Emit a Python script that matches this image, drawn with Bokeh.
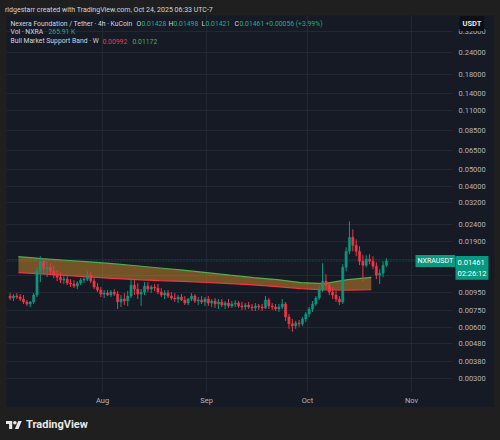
import pandas as pd
from bokeh.plotting import figure
from bokeh.models import (ColumnDataSource, Range1d, FixedTicker, PrintfTickFormatter,
                          DatetimeTickFormatter, Label, Span, Div, BoxAnnotation,
                          GlobalInlineStyleSheet)
from bokeh.layouts import column
from bokeh.embed import file_html
from bokeh.resources import INLINE

# ---------------- data (daily OHLC, NXRA/USDT) ----------------
first_day = "2025-07-04"
opens = [0.00912, 0.00888, 0.00912, 0.00900, 0.00876, 0.00842, 0.00819, 0.00842, 0.00924, 0.01274,
         0.01457, 0.01309, 0.01344, 0.01274, 0.01208, 0.01176, 0.01130, 0.01145, 0.01085, 0.01071,
         0.01042, 0.01085, 0.01130, 0.01145, 0.01208, 0.01115, 0.01029, 0.00988,
         0.00936, 0.00949, 0.00924, 0.00962, 0.00936, 0.00842, 0.00876, 0.00853, 0.00912, 0.01056,
         0.01001, 0.00936, 0.00962, 0.01042, 0.01001, 0.01029, 0.01015, 0.00962, 0.00924, 0.00949,
         0.00912, 0.00888, 0.00876, 0.00900, 0.00864, 0.00830, 0.00876, 0.00912, 0.00853, 0.00864,
         0.00842,
         0.00876, 0.00830, 0.00853, 0.00819, 0.00842, 0.00808, 0.00830, 0.00798, 0.00819, 0.00830,
         0.00798, 0.00787, 0.00808, 0.00787, 0.00777, 0.00798, 0.00787, 0.00777, 0.00864, 0.00798,
         0.00787, 0.00766, 0.00787, 0.00819, 0.00688, 0.00627, 0.00610, 0.00635, 0.00627, 0.00670,
         0.00716, 0.00766, 0.00819, 0.00888, 0.00988, 0.01115, 0.01056, 0.00962, 0.00924, 0.00876,
         0.00842, 0.01344, 0.01665, 0.02008, 0.01805, 0.01665, 0.01457, 0.01381, 0.01496, 0.01457,
         0.01362, 0.01208, 0.01241, 0.01381]
highs = [0.00949, 0.00936, 0.00949, 0.00936, 0.00924, 0.00864, 0.00853, 0.00949, 0.01344, 0.01558,
         0.01516, 0.01457, 0.01418, 0.01381, 0.01291, 0.01257, 0.01208, 0.01192, 0.01145, 0.01130,
         0.01115, 0.01160, 0.01176, 0.01274, 0.01257, 0.01160, 0.01085, 0.01029,
         0.00988, 0.00988, 0.00988, 0.01001, 0.00975, 0.00924, 0.00949, 0.00975, 0.01145, 0.01130,
         0.01085, 0.01001, 0.01100, 0.01100, 0.01056, 0.01071, 0.01071, 0.01015, 0.00988, 0.00988,
         0.00962, 0.00949, 0.00924, 0.00936, 0.00912, 0.00888, 0.00949, 0.00936, 0.00900, 0.00912,
         0.00900,
         0.00912, 0.00876, 0.00888, 0.00876, 0.00876, 0.00853, 0.00876, 0.00853, 0.00864, 0.00853,
         0.00842, 0.00830, 0.00842, 0.00819, 0.00830, 0.00819, 0.00819, 0.00912, 0.00888, 0.00830,
         0.00819, 0.00819, 0.00876, 0.00842, 0.00716, 0.00670, 0.00653, 0.00661, 0.00688, 0.00736,
         0.00787, 0.00853, 0.00912, 0.01042, 0.01418, 0.01224, 0.01100, 0.01029, 0.00975, 0.00912,
         0.01399, 0.01757, 0.02489, 0.02235, 0.01955, 0.01781, 0.01579, 0.01579, 0.01600, 0.01558,
         0.01437, 0.01309, 0.01457, 0.01516]
lows = [0.00864, 0.00853, 0.00876, 0.00853, 0.00819, 0.00798, 0.00787, 0.00819, 0.00900, 0.01100,
        0.01224, 0.01176, 0.01208, 0.01160, 0.01115, 0.01085, 0.01071, 0.01056, 0.01029, 0.01015,
        0.01001, 0.01056, 0.01085, 0.01115, 0.01085, 0.01001, 0.00962, 0.00900,
        0.00888, 0.00912, 0.00900, 0.00912, 0.00766, 0.00787, 0.00808, 0.00798, 0.00888, 0.00924,
        0.00876, 0.00798, 0.00924, 0.00962, 0.00949, 0.00975, 0.00936, 0.00900, 0.00876, 0.00888,
        0.00864, 0.00842, 0.00830, 0.00853, 0.00808, 0.00808, 0.00853, 0.00830, 0.00808, 0.00819,
        0.00798,
        0.00798, 0.00787, 0.00777, 0.00766, 0.00787, 0.00766, 0.00777, 0.00777, 0.00787, 0.00777,
        0.00756, 0.00756, 0.00766, 0.00746, 0.00746, 0.00756, 0.00746, 0.00766, 0.00766, 0.00756,
        0.00746, 0.00736, 0.00766, 0.00653, 0.00586, 0.00563, 0.00586, 0.00602, 0.00610, 0.00644,
        0.00688, 0.00736, 0.00798, 0.00864, 0.00962, 0.01001, 0.00924, 0.00876, 0.00842, 0.00808,
        0.00819, 0.01274, 0.01600, 0.01665, 0.01558, 0.01381, 0.01115, 0.01344, 0.01399, 0.01309,
        0.01145, 0.01071, 0.01176, 0.01344]
closes = [0.00888, 0.00912, 0.00900, 0.00876, 0.00842, 0.00819, 0.00842, 0.00924, 0.01274, 0.01457,
          0.01309, 0.01344, 0.01274, 0.01208, 0.01176, 0.01130, 0.01145, 0.01085, 0.01071, 0.01042,
          0.01085, 0.01130, 0.01145, 0.01208, 0.01115, 0.01029, 0.00988, 0.00936,
          0.00949, 0.00924, 0.00962, 0.00936, 0.00842, 0.00876, 0.00853, 0.00912, 0.01056, 0.01001,
          0.00936, 0.00962, 0.01042, 0.01001, 0.01029, 0.01015, 0.00962, 0.00924, 0.00949, 0.00912,
          0.00888, 0.00876, 0.00900, 0.00864, 0.00830, 0.00876, 0.00912, 0.00853, 0.00864, 0.00842,
          0.00876,
          0.00830, 0.00853, 0.00819, 0.00842, 0.00808, 0.00830, 0.00798, 0.00819, 0.00830, 0.00798,
          0.00787, 0.00808, 0.00787, 0.00777, 0.00798, 0.00787, 0.00777, 0.00864, 0.00798, 0.00787,
          0.00766, 0.00787, 0.00819, 0.00688, 0.00627, 0.00610, 0.00635, 0.00627, 0.00670, 0.00716,
          0.00766, 0.00819, 0.00888, 0.00988, 0.01115, 0.01056, 0.00962, 0.00924, 0.00876, 0.00842,
          0.01344, 0.01665, 0.02008, 0.01805, 0.01665, 0.01457, 0.01381, 0.01496, 0.01457, 0.01362,
          0.01208, 0.01241, 0.01381, 0.01461]

# Bull Market Support Band (weekly): 20W SMA (red) and 21W EMA (green)
band_weeks = ["2025-07-07", "2025-07-14", "2025-07-21", "2025-07-28", "2025-08-04", "2025-08-11",
              "2025-08-18", "2025-08-25", "2025-09-01", "2025-09-08", "2025-09-15", "2025-09-22",
              "2025-09-29", "2025-10-06", "2025-10-13", "2025-10-20"]
band_sma = [0.01250, 0.01227, 0.01203, 0.01179, 0.01155, 0.01138, 0.01122, 0.01111,
            0.01094, 0.01078, 0.01059, 0.01036, 0.01008, 0.00991, 0.00988, 0.00992]
band_ema = [0.01548, 0.01510, 0.01476, 0.01443, 0.01409, 0.01371, 0.01330, 0.01291,
            0.01249, 0.01208, 0.01169, 0.01138, 0.01093, 0.01078, 0.01138, 0.01172]

last_price = 0.01461
price_ticks = [0.0030, 0.0038, 0.0048, 0.0060, 0.0075, 0.0095, 0.0120, 0.0150, 0.0190, 0.0240,
               0.0320, 0.0400, 0.0500, 0.0650, 0.0850, 0.1100, 0.1400, 0.1800, 0.2400, 0.3200]
month_ticks = ["2025-08-01", "2025-09-01", "2025-10-01", "2025-11-01"]

# ---------------- styling ----------------
OUTER = "#1f1f1f"
PANEL = "#161a25"
UP = "#089981"
DOWN = "#f23645"
TXT = "#d1d4dc"
AX = "#b2b5be"
TEAL = "#22ab94"
FONT = "Roboto"


def ms(ts):
    return pd.Timestamp(ts).value / 1e6


dates = pd.date_range(first_day, periods=len(closes), freq="D") + pd.Timedelta(hours=12)
colors = [UP if c >= o else DOWN for o, c in zip(opens, closes)]
src = ColumnDataSource(dict(x=dates, o=opens, h=highs, l=lows, c=closes, color=colors))

# frame covers the whole TradingView pane (chart + price scale + time scale)
p = figure(width=488, height=392, x_axis_type="datetime", y_axis_type="log",
           y_axis_location="right",
           x_range=Range1d(ms("2025-07-03 10:17"), ms("2025-11-25 16:00")),
           y_range=Range1d(0.0020903, 0.3975),
           output_backend="svg", toolbar_location=None,
           min_border=0, background_fill_color=PANEL, border_fill_color=PANEL,
           outline_line_color=None, margin=(0, 6, 0, 6))

p.yaxis.ticker = FixedTicker(ticks=price_ticks, minor_ticks=[])
p.yaxis.formatter = PrintfTickFormatter(format="%.5f")
p.xaxis.ticker = FixedTicker(ticks=[ms(m) for m in month_ticks], minor_ticks=[])
p.xaxis.formatter = DatetimeTickFormatter(microseconds="%b", milliseconds="%b", seconds="%b",
                                          minsec="%b", minutes="%b", hourmin="%b", hours="%b",
                                          days="%b", months="%b", years="%b")
for ax in (p.xaxis, p.yaxis):
    ax.axis_line_color = None
    ax.major_tick_line_color = None
    ax.minor_tick_line_color = None
    ax.major_tick_in = 0
    ax.major_tick_out = 0
    ax.major_label_text_color = AX
    ax.major_label_text_font = FONT
    ax.major_label_text_font_size = "7.5px"
# labels drawn inside the pane, on the price / time scale strips
p.yaxis.major_label_standoff = -36
p.xaxis.major_label_standoff = -10

p.xgrid.grid_line_color = "#2a2e39"
p.ygrid.grid_line_color = "#2a2e39"
p.xgrid.grid_line_alpha = 0.7
p.ygrid.grid_line_alpha = 0.7

# last price line (under the candles)
p.add_layout(Span(location=last_price, dimension="width", line_color=UP,
                  line_dash="1 2", line_alpha=0.6, line_width=1, level="underlay"))

# band
bx = [ms(w) for w in band_weeks]
p.varea(x=bx, y1=band_sma, y2=band_ema, fill_color="#f7a22b", fill_alpha=0.42)
p.line(x=bx, y=band_ema, line_color="#4caf50", line_width=1.2)
p.line(x=bx, y=band_sma, line_color="#f23645", line_width=1.2)

# candles
p.segment(x0="x", y0="h", x1="x", y1="l", color="color", line_width=1, source=src)
p.vbar(x="x", top="o", bottom="c", width=0.65 * 86400000, fill_color="color",
       line_color="color", line_width=0.5, source=src)

# price-scale and time-scale strips (hide grid there)
p.add_layout(BoxAnnotation(left=ms("2025-11-13 04:00"), fill_color=PANEL, fill_alpha=1,
                           line_color=None, level="glyph"))
p.add_layout(BoxAnnotation(top=0.002522, fill_color=PANEL, fill_alpha=1,
                           line_color=None, level="glyph"))


def lab(x, y, text, color=TXT, size="6.8px", bold=False, bg=None, pad=0, base="middle", yoff=0):
    kw = dict(x=x, y=y, x_units="screen", y_units="data", text=text, text_color=color,
              text_font=FONT, text_font_size=size, text_baseline=base, y_offset=yoff,
              text_font_style="bold" if bold else "normal")
    if bg is not None:
        kw.update(background_fill_color=bg, padding=pad)
    p.add_layout(Label(**kw))


y1, y2, y3 = 0.3557, 0.3166, 0.2807
lab(4, y1, "Nexera Foundation / Tether · 4h · KuCoin")
lab(130, y1, "O"); lab(135, y1, "0.01428", TEAL)
lab(162, y1, "H"); lab(167, y1, "0.01498", TEAL)
lab(195, y1, "L"); lab(199, y1, "0.01421", TEAL)
lab(228, y1, "C"); lab(233, y1, "0.01461", TEAL)
lab(259, y1, "+0.00056 (+3.99%)", TEAL)
lab(4, y2, "Vol · NXRA"); lab(42, y2, "265.91 K", TEAL)
lab(4, y3, "Bull Market Support Band · W")
lab(96, y3, "0.00992", "#f23645"); lab(126, y3, "0.01172", "#4caf50")

# currency box on the price scale
lab(453, 0.3571, "USDT", "#e8e8e8", "7.5px", True, "#0d0f14", 3)
# symbol tag + last price box
lab(409, last_price, "NXRAUSDT", "#ffffff", "7px", False, UP, 2)
lab(449, last_price, "0.01461\n02:26:12", "#ffffff", "7.5px", False, UP, 2, "top", 5)

header = Div(text=('<div style="background:%s;color:%s;font-family:Roboto,sans-serif;'
                   'font-size:7px;line-height:15px;height:15px;width:500px;padding-left:5px;'
                   'box-sizing:border-box;white-space:nowrap;">'
                   'ridgestarr created with TradingView.com, Oct 24, 2025 06:33 UTC-7</div>') % (OUTER, TXT),
             width=500, height=15, margin=0)

logo_svg = ('<svg width="16" height="12" viewBox="0 0 36 26" style="margin-right:4px">'
            '<path d="M14 22H7V11H0V4h14v18z" fill="#e8e8e8"/>'
            '<circle cx="20" cy="8" r="4" fill="#e8e8e8"/>'
            '<path d="M28 22h-8l7.5-18h8L28 22z" fill="#e8e8e8"/></svg>')
footer = Div(text=('<div style="background:%s;height:33px;width:500px;display:flex;'
                   'align-items:center;padding:2px 0 0 6px;box-sizing:border-box;'
                   'font-family:Roboto,sans-serif;font-size:11px;font-weight:700;color:#e8e8e8;">'
                   '%sTradingView</div>') % (OUTER, logo_svg),
             width=500, height=33, margin=0)

layout = column(header, p, footer, spacing=0, margin=0)
layout.stylesheets = [GlobalInlineStyleSheet(css="body { background-color: %s; }" % OUTER)]

open("out.html", "w").write(file_html(layout, INLINE))
